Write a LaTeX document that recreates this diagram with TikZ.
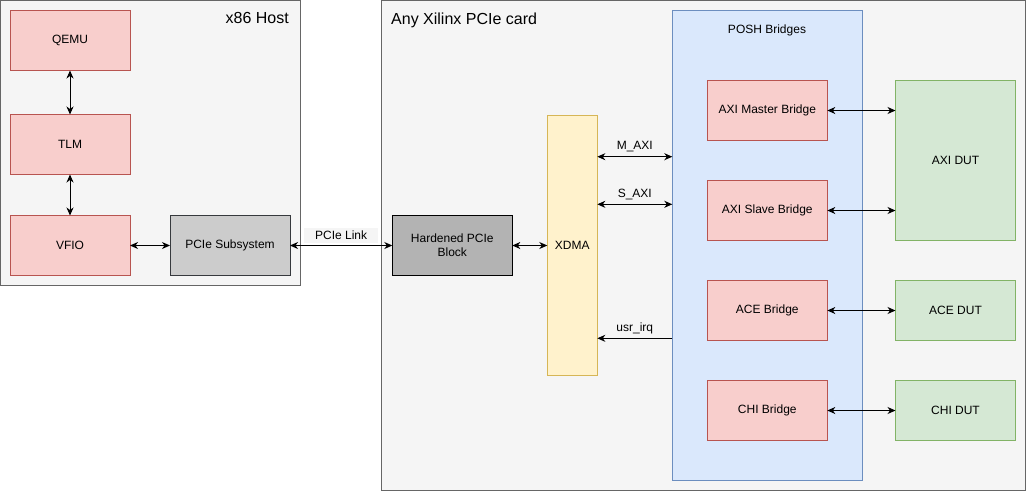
\documentclass[tikz,border=0pt]{standalone}
\usepackage{fontspec}
\setmainfont{Liberation Sans}
\usetikzlibrary{arrows.meta}
\definecolor{contfill}{HTML}{F5F5F5}
\definecolor{contdraw}{HTML}{666666}
\definecolor{redfill}{HTML}{F8CECC}
\definecolor{reddraw}{HTML}{B85450}
\definecolor{grayfill}{HTML}{CCCCCC}
\definecolor{graydraw}{HTML}{36393D}
\definecolor{darkfill}{HTML}{B3B3B3}
\definecolor{yelfill}{HTML}{FFF2CC}
\definecolor{yeldraw}{HTML}{D6B656}
\definecolor{bluefill}{HTML}{DAE8FC}
\definecolor{bluedraw}{HTML}{6C8EBF}
\definecolor{greenfill}{HTML}{D5E8D4}
\definecolor{greendraw}{HTML}{82B366}
\begin{document}
\begin{tikzpicture}[x=1pt,y=-1pt,
  base/.style={rectangle, line width=1pt, inner sep=0pt, outer sep=0pt,
    font=\fontsize{12}{14}\selectfont, align=center},
  container/.style={base, fill=contfill, draw=contdraw, anchor=north west},
  redbox/.style={base, fill=redfill, draw=reddraw, minimum width=120, minimum height=60},
  graybox/.style={base, fill=grayfill, draw=graydraw, minimum width=120, minimum height=60},
  darkbox/.style={base, fill=darkfill, draw=black, minimum width=120, minimum height=60},
  yelbox/.style={base, fill=yelfill, draw=yeldraw, anchor=north west},
  bluebox/.style={base, fill=bluefill, draw=bluedraw, anchor=north west},
  greenbox/.style={base, fill=greenfill, draw=greendraw, minimum width=120},
  title/.style={font=\fontsize{16}{18}\selectfont, inner sep=0pt},
  lbl/.style={font=\fontsize{12}{14}\selectfont, inner sep=0pt},
  conn/.style={line width=1pt, {Stealth[length=8pt,width=7pt,inset=2.5pt]}-{Stealth[length=8pt,width=7pt,inset=2.5pt]}},
  conn1/.style={line width=1pt, -{Stealth[length=8pt,width=7pt,inset=2.5pt]}}
]
\useasboundingbox (0,0) rectangle (1027,491);

% containers
\node[container, minimum width=299.5, minimum height=284.5] (host) at (0.5,0.5) {};
\node[title, anchor=north east] (hosttitle) at (289,12.5) {x86 Host};
\node[container, minimum width=644.5, minimum height=489.5] (card) at (381,0.5) {};
\node[title, anchor=north west] (cardtitle) at (391,12.5) {Any Xilinx PCIe card};

% host blocks
\node[redbox] (qemu) at (70,40.5) {QEMU};
\node[redbox] (tlm) at (70,144.5) {TLM};
\node[redbox] (vfio) at (70,245.5) {VFIO};
\node[graybox] (pcies) at (230,245.5) {PCIe Subsystem};

% card blocks
\node[darkbox] (hard) at (452.3,245.5) {Hardened PCIe\\Block};
\node[yelbox, minimum width=50, minimum height=260] (xdma) at (547.3,115.3) {XDMA};
\node[bluebox, minimum width=190, minimum height=470] (posh) at (672.3,10.3) {};
\node[lbl] (poshtitle) at (767,30.7) {POSH Bridges};

\node[redbox] (axim) at (767.3,110.5) {AXI Master Bridge};
\node[redbox] (axis) at (767.3,210.5) {AXI Slave Bridge};
\node[redbox] (ace) at (767.3,310.5) {ACE Bridge};
\node[redbox] (chi) at (767.3,410.5) {CHI Bridge};

\node[greenbox, minimum height=160] (axidut) at (955.5,160.5) {AXI DUT};
\node[greenbox, minimum height=60] (acedut) at (955.5,310.5) {ACE DUT};
\node[greenbox, minimum height=60] (chidut) at (955.5,410.5) {CHI DUT};

% connectors host
\draw[conn] (qemu) -- (tlm);
\draw[conn] (tlm) -- (vfio);
\draw[conn] (vfio) -- (pcies);
\draw[conn] (pcies) -- node[lbl, fill=contfill, inner xsep=11pt, inner ysep=3pt, above=2pt] (pcielink) {PCIe Link} (hard);
\draw[conn] (hard) -- (xdma.west |- hard);

% xdma to posh
\coordinate (ym) at (0,156.7);
\coordinate (ys) at (0,204.3);
\coordinate (yi) at (0,338.3);
\draw[conn] (xdma.east |- ym) -- node[lbl, above=4pt] (mlbl) {M\_AXI} (posh.west |- ym);
\draw[conn] (xdma.east |- ys) -- node[lbl, above=4pt] (slbl) {S\_AXI} (posh.west |- ys);
\draw[conn1] (posh.west |- yi) -- node[lbl, above=4pt] (ilbl) {usr\_irq} (xdma.east |- yi);

% bridges to DUTs
\draw[conn] (axim) -- (axim -| axidut.west);
\draw[conn] (axis.east) -- (axis -| axidut.west);
\draw[conn] (ace) -- (acedut);
\draw[conn] (chi) -- (chidut);
\end{tikzpicture}
\end{document}
